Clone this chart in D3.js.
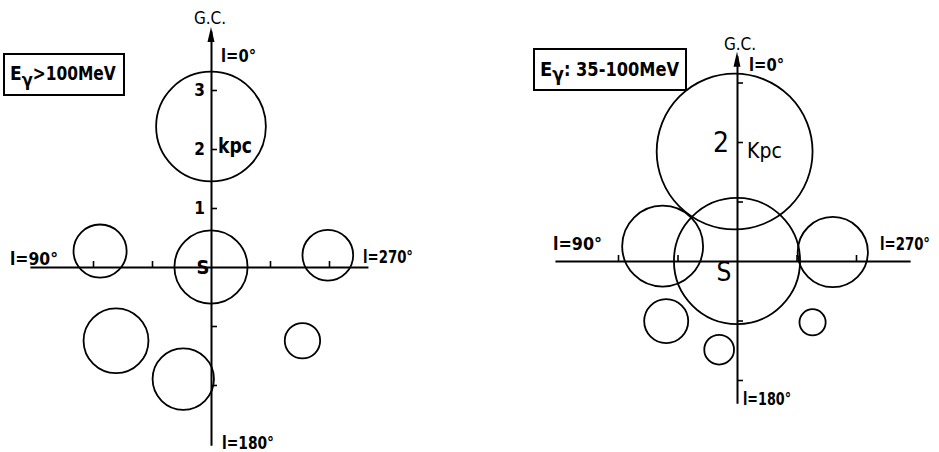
<!DOCTYPE html>
<html>
<head>
<meta charset="utf-8">
<script src="https://cdn.jsdelivr.net/npm/d3@7"></script>
<style>
  body { margin: 0; background: #fff; }
  text { font-family: "DejaVu Sans", sans-serif; font-stretch: condensed; fill: #000; }
</style>
</head>
<body>
<svg id="chart" width="939" height="452"></svg>
<script>
// circle positions in kpc (x toward l=270, y toward G.C.), r = radius in kpc
const highCircX = [0.0, 0.0, -1.88, 1.98, -1.61, -0.47, 1.55];
const highCircY = [2.38, 0.0, 0.27, 0.20, -1.25, -1.90, -1.25];
const highCircR = [0.93, 0.62, 0.45, 0.43, 0.55, 0.52, 0.30];

const lowCircX = [-0.04, 0.0, -1.25, 1.61, -1.19, -0.30, 1.27];
const lowCircY = [1.84, 0.0, 0.25, 0.15, -1.01, -1.49, -1.03];
const lowCircR = [1.31, 1.06, 0.68, 0.59, 0.37, 0.25, 0.22];

// axis ticks (kpc)
const vTicks = [-2, -1, 1, 2, 3];
const hTicks = [-2, -1, 1, 2];
const highTickLabels = [1, 2, 3];
const lowTickLabels = [2];

const svg = d3.select('#chart');

function toCircles(xs, ys, rs) {
  return xs.map((x, i) => ({x: x, y: ys[i], r: rs[i]}));
}

function drawPanel(opt) {
  const k = opt.pxPerKpc;
  const x = d3.scaleLinear().domain(opt.xExtent)
    .range(opt.xExtent.map(d => opt.ox + d * k));
  const y = d3.scaleLinear().domain(opt.yExtent)
    .range(opt.yExtent.map(d => opt.oy - d * k));

  const g = svg.append('g').attr('class', 'panel');

  // horizontal axis (ticks pointing up)
  const xAxis = d3.axisBottom(x).tickValues(hTicks).tickFormat('')
    .tickSizeInner(-6).tickSizeOuter(0);
  g.append('g').attr('transform', `translate(0,${opt.oy})`).call(xAxis);

  // vertical axis (ticks pointing right, labels left)
  const yAxis = d3.axisLeft(y).tickValues(vTicks)
    .tickFormat(d => opt.tickLabels.includes(d) ? d : '')
    .tickSizeInner(-6).tickSizeOuter(0).tickPadding(6);
  const ya = g.append('g').attr('transform', `translate(${opt.ox},0)`).call(yAxis);
  ya.selectAll('text').style('font-size', opt.tickFont + 'px')
    .style('font-family', '"DejaVu Sans", sans-serif').style('font-stretch', 'condensed')
    .style('font-weight', 'bold');

  g.selectAll('.domain').attr('stroke', '#000').attr('stroke-width', 2);
  g.selectAll('.tick line').attr('stroke', '#000').attr('stroke-width', 1.6);

  // arrow head at G.C.
  const top = y(d3.max(opt.yExtent));
  g.append('path')
    .attr('d', `M${opt.ox},${top - 4} L${opt.ox - 3.5},${top + 11} L${opt.ox + 3.5},${top + 11} Z`)
    .attr('fill', '#000');

  // circles
  g.selectAll('circle.src')
    .data(opt.circles)
    .enter()
    .append('circle')
    .attr('class', 'src')
    .attr('cx', d => x(d.x))
    .attr('cy', d => y(d.y))
    .attr('r', d => d.r * k)
    .attr('fill', 'none')
    .attr('stroke', '#000')
    .attr('stroke-width', 1.8);

  return {g: g, x: x, y: y};
}

function lonLabel(g, px, py, deg, size, width) {
  g.append('text').attr('x', px).attr('y', py)
    .style('font-size', size + 'px').style('font-weight', 'bold')
    .attr('textLength', width).attr('lengthAdjust', 'spacingAndGlyphs')
    .text(`l=${deg}\u00b0`);
}

function energyBox(g, bx, by, bw, bh, label, size, width) {
  g.append('rect').attr('x', bx).attr('y', by).attr('width', bw).attr('height', bh)
    .attr('fill', 'none').attr('stroke', '#000').attr('stroke-width', 2);
  const t = g.append('text').attr('x', bx + 6).attr('y', by + bh / 2 + size * 0.3)
    .style('font-size', size + 'px').style('font-weight', 'bold');
  t.append('tspan').text('E');
  t.append('tspan').attr('dy', size * 0.28).style('font-size', (size * 0.95) + 'px').text('\u03b3');
  t.append('tspan').attr('dy', -size * 0.28).attr('textLength', width)
    .attr('lengthAdjust', 'spacingAndGlyphs').text(label);
}

// ---- left panel: E > 100 MeV
const left = drawPanel({
  ox: 211, oy: 267, pxPerKpc: 59,
  xExtent: [-3.07, 2.66], yExtent: [4.0, -3.02],
  circles: toCircles(highCircX, highCircY, highCircR),
  tickLabels: highTickLabels, tickFont: 17
});
energyBox(left.g, 4, 54, 120, 41, '>100MeV', 19, 83);
left.g.append('text').attr('x', 210).attr('y', 24).attr('text-anchor', 'middle')
  .style('font-size', '17px').text('G.C.');
lonLabel(left.g, 221, 62, 0, 18, 35);
lonLabel(left.g, 10, 265, 90, 18, 48);
lonLabel(left.g, 363, 263, 270, 17, 50);
lonLabel(left.g, 222, 449, 180, 18, 52);
left.g.append('text').attr('x', 218).attr('y', 153)
  .style('font-size', '21px').style('font-weight', 'bold')
  .attr('textLength', 34).attr('lengthAdjust', 'spacingAndGlyphs').text('kpc');
left.g.append('text').attr('x', 203).attr('y', 274).attr('text-anchor', 'middle')
  .style('font-size', '20px').style('font-weight', 'bold').text('S');

// ---- right panel: E 35-100 MeV
const right = drawPanel({
  ox: 737, oy: 261, pxPerKpc: 59.5,
  xExtent: [-3.06, 2.91], yExtent: [3.45, -2.39],
  circles: toCircles(lowCircX, lowCircY, lowCircR),
  tickLabels: [], tickFont: 17
});
energyBox(right.g, 534, 49, 152, 41, ': 35-100MeV', 20, 115);
right.g.append('text').attr('x', 740).attr('y', 50).attr('text-anchor', 'middle')
  .style('font-size', '17px').text('G.C.');
lonLabel(right.g, 749, 71, 0, 18, 35);
lonLabel(right.g, 553, 250, 90, 18, 49);
lonLabel(right.g, 880, 250, 270, 17, 50);
lonLabel(right.g, 743, 405, 180, 17, 48);
right.g.append('text').attr('x', right.x(0) - 8).attr('y', right.y(lowTickLabels[0]) + 10)
  .attr('text-anchor', 'end').style('font-size', '28px').text('2');
right.g.append('text').attr('x', 747).attr('y', 158)
  .style('font-size', '21px').text('Kpc');
right.g.append('text').attr('x', 724).attr('y', 281).attr('text-anchor', 'middle')
  .style('font-size', '26px').text('S');
</script>
</body>
</html>
